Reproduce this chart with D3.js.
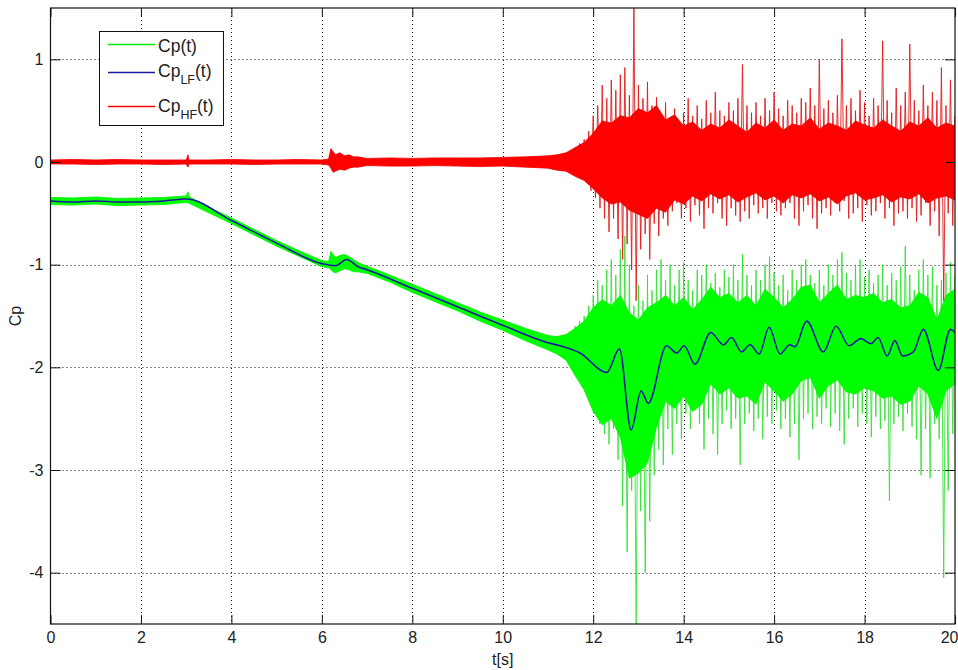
<!DOCTYPE html>
<html>
<head>
<meta charset="utf-8">
<script src="https://cdnjs.cloudflare.com/ajax/libs/d3/7.8.5/d3.min.js"></script>
<style>
  body { margin: 0; background: #fff; }
  svg { display: block; }
  text { font-family: "Liberation Sans", Arial, sans-serif; }
</style>
</head>
<body>
<svg id="chart" width="958" height="670"></svg>
<script>
(function () {
    'use strict'

    // axis ticks
    var xTicks = [0, 2, 4, 6, 8, 10, 12, 14, 16, 18, 20]
    var xTickLabels = ['0', '2', '4', '6', '8', '10', '12', '14', '16', '18', '20']
    var yTicks = [-4, -3, -2, -1, 0, 1]
    var yTickLabels = ['-4', '-3', '-2', '-1', '0', '1']

    // low frequency part Cp_LF(t)
    var lfT = [0, 0.5, 1, 1.5, 2, 2.5, 3.0, 4, 5, 6, 6.3, 6.55, 6.8, 7, 8, 9, 10, 11, 11.27, 11.71,
        12.30, 12.58, 12.84, 13.06, 13.22, 13.62, 13.85, 14.01, 14.25, 14.60, 14.88, 15.06, 15.28,
        15.47, 15.67, 15.89, 16.13, 16.35, 16.46, 16.72, 17.09, 17.37, 17.66, 17.92, 18.14, 18.30,
        18.50, 18.67, 18.84, 19.08, 19.30, 19.63, 19.90, 20]
    var lfV = [-0.38, -0.39, -0.38, -0.39, -0.39, -0.38, -0.36, -0.57, -0.79, -0.99, -1.01, -0.95,
        -1.02, -1.05, -1.23, -1.41, -1.59, -1.76, -1.79, -1.86, -2.05, -1.82, -2.61, -2.23, -2.35,
        -1.79, -1.86, -1.79, -1.97, -1.66, -1.78, -1.71, -1.85, -1.78, -1.87, -1.61, -1.87, -1.78,
        -1.80, -1.55, -1.85, -1.60, -1.79, -1.72, -1.77, -1.71, -1.89, -1.74, -1.89, -1.85, -1.63,
        -2.03, -1.63, -1.66]

    // times of the solid bands (before 11.5 s, then every 0.2 s)
    var bandT = [0, 0.5, 1, 1.5, 2, 2.5, 3.0, 3.04, 3.06, 3.1, 3.5, 4, 4.5, 5, 5.5, 6.0, 6.15, 6.2,
        6.25, 6.3, 6.4, 6.5, 6.6, 6.7, 6.8, 7.0, 7.5, 8, 8.5, 9, 9.5, 10, 10.5, 11, 11.2, 11.4,
        11.6, 11.8, 12.0, 12.2, 12.4, 12.6, 12.8, 13.0, 13.2, 13.4, 13.6, 13.8, 14.0, 14.2, 14.4,
        14.6, 14.8, 15.0, 15.2, 15.4, 15.6, 15.8, 16.0, 16.2, 16.4, 16.6, 16.8, 17.0, 17.2, 17.4,
        17.6, 17.8, 18.0, 18.2, 18.4, 18.6, 18.8, 19.0, 19.2, 19.4, 19.6, 19.8, 20.0]

    // Cp(t): solid band of the signal
    var greenTop = [-0.345, -0.35, -0.34, -0.355, -0.35, -0.345, -0.33, -0.29, -0.33, -0.345,
        -0.44, -0.545, -0.655, -0.765, -0.865, -0.96, -0.97, -0.87, -0.90, -0.93, -0.91, -0.90,
        -0.92, -0.95, -0.98, -1.015, -1.10, -1.19, -1.28, -1.37, -1.46, -1.54, -1.62, -1.69, -1.70,
        -1.68,
        -1.62, -1.55, -1.42, -1.34, -1.40, -1.30, -1.47, -1.54, -1.42, -1.37, -1.30, -1.40, -1.32,
        -1.44, -1.34, -1.22, -1.32, -1.28, -1.37, -1.30, -1.40, -1.24, -1.32, -1.42, -1.34, -1.22,
        -1.20, -1.37, -1.28, -1.20, -1.34, -1.30, -1.32, -1.28, -1.37, -1.34, -1.42, -1.40, -1.27,
        -1.32, -1.54, -1.30, -1.24]
    var greenBot = [-0.415, -0.42, -0.41, -0.425, -0.42, -0.415, -0.395, -0.40, -0.40, -0.41,
        -0.495, -0.60, -0.71, -0.82, -0.92, -1.02, -1.03, -1.05, -1.07, -1.08, -1.06, -1.04, -1.05,
        -1.07, -1.07, -1.085, -1.17, -1.27, -1.36, -1.45, -1.55, -1.64, -1.74, -1.83, -1.87, -1.93,
        -2.08, -2.22, -2.43, -2.56, -2.50, -2.68, -3.08, -3.03, -2.93, -2.58, -2.33, -2.40, -2.28,
        -2.43, -2.36, -2.16, -2.26, -2.20, -2.30, -2.28, -2.36, -2.14, -2.23, -2.33, -2.26, -2.13,
        -2.10, -2.30, -2.18, -2.12, -2.24, -2.26, -2.20, -2.23, -2.30, -2.28, -2.36, -2.33, -2.18,
        -2.26, -2.50, -2.23, -2.16]

    // Cp_HF(t): solid band
    var redTop = [0.02, 0.025, 0.02, 0.025, 0.02, 0.02, 0.02, 0.07, 0.02, 0.02, 0.02, 0.025, 0.02,
        0.02, 0.025, 0.02, 0.03, 0.13, 0.10, 0.07, 0.09, 0.06, 0.07, 0.05, 0.05, 0.035, 0.04, 0.035,
        0.04, 0.04, 0.04, 0.045, 0.05, 0.06, 0.07, 0.09,
        0.14, 0.19, 0.28, 0.40, 0.38, 0.45, 0.43, 0.52, 0.48, 0.55, 0.41, 0.46, 0.35, 0.39, 0.31,
        0.37, 0.33, 0.41, 0.35, 0.29, 0.38, 0.33, 0.41, 0.31, 0.37, 0.35, 0.43, 0.32, 0.38, 0.35,
        0.31, 0.40, 0.36, 0.33, 0.41, 0.35, 0.30, 0.39, 0.35, 0.43, 0.33, 0.38, 0.35]
    var redBot = [-0.02, -0.02, -0.025, -0.02, -0.02, -0.025, -0.02, -0.05, -0.02, -0.02, -0.02,
        -0.02, -0.025, -0.02, -0.02, -0.02, -0.03, -0.06, -0.10, -0.09, -0.07, -0.08, -0.06, -0.05,
        -0.05, -0.035, -0.04, -0.04, -0.035, -0.04, -0.045, -0.04, -0.05, -0.06, -0.08, -0.09,
        -0.14, -0.18, -0.26, -0.35, -0.41, -0.39, -0.47, -0.51, -0.55, -0.45, -0.49, -0.37, -0.41,
        -0.33, -0.38, -0.31, -0.36, -0.32, -0.39, -0.34, -0.30, -0.37, -0.33, -0.40, -0.32, -0.35,
        -0.31, -0.38, -0.34, -0.41, -0.33, -0.30, -0.37, -0.35, -0.32, -0.39, -0.34, -0.36, -0.31,
        -0.40, -0.35, -0.33, -0.37]

    // Cp(t): peaks and troughs every 0.1 s from 11.5 s
    var greenHi = [-1.65, -1.60, -1.55, -1.50, -1.40, -1.30, -1.15, -1.20, -1.05, -0.95, -1.10,
        -0.85, -0.72, -1.00, -1.40, -1.20, -1.35, -1.10, -1.25, -1.05, -0.95, -1.15, -1.00, -1.20,
        -1.05, -0.98, -1.15, -1.25, -1.05, -1.10, -1.00, -1.18, -1.08, -1.22, -1.05, -1.12, -1.00,
        -1.15, -0.90, -1.10, -1.20, -1.05, -1.15, -1.00, -0.92, -1.08, -1.20, -1.10, -1.25, -1.05,
        -1.15, -1.00, -0.95, -1.10, -1.18, -1.05, -1.20, -1.00, -1.10, -0.95, -0.88, -1.08, -1.15,
        -1.00, -0.95, -1.12, -1.05, -1.18, -1.10, -1.00, -1.20, -1.08, -1.15, -1.02, -0.82, -1.10,
        -1.25, -1.05, -0.95, -1.10, -1.02, -1.20, -1.15, -1.08, -0.98, -1.10]
    var greenLo = [-2.00, -2.05, -2.12, -2.20, -2.30, -2.45, -2.55, -2.65, -2.75, -2.60, -2.90,
        -3.35, -3.80, -3.20, -4.50, -3.40, -4.00, -3.50, -3.05, -2.80, -2.95, -2.60, -2.85, -2.55,
        -2.70, -2.45, -2.60, -2.40, -2.55, -2.80, -2.50, -2.65, -2.85, -2.55, -2.42, -2.60, -2.50,
        -2.95, -2.55, -2.45, -2.62, -2.50, -2.70, -2.48, -2.55, -2.42, -2.60, -2.50, -2.68, -2.55,
        -2.90, -2.50, -2.45, -2.60, -2.48, -2.55, -2.40, -2.58, -2.45, -2.62, -2.75, -2.50, -2.40,
        -2.58, -2.45, -2.55, -2.68, -2.48, -2.60, -2.52, -3.30, -2.55, -2.48, -2.62, -2.45, -2.58,
        -2.70, -3.05, -2.60, -3.08, -2.55, -2.70, -4.05, -3.20, -2.65, -2.45]

    // Cp_HF(t): peaks and troughs every 0.1 s from 11.5 s
    var redHi = [0.10, 0.14, 0.18, 0.22, 0.30, 0.45, 0.55, 0.75, 0.62, 0.80, 0.70, 0.85, 0.92, 0.65,
        1.50, 0.75, 0.62, 0.78, 0.55, 0.63, 0.45, 0.58, 0.40, 0.52, 0.38, 0.48, 0.62, 0.45, 0.55,
        0.42, 0.60, 0.48, 0.68, 0.50, 0.45, 0.58, 0.50, 0.62, 0.95, 0.55, 0.48, 0.58, 0.45, 0.62,
        0.50, 0.68, 0.52, 0.45, 0.60, 0.55, 0.48, 0.62, 0.58, 0.72, 0.55, 1.00, 0.52, 0.60, 0.48,
        0.65, 1.20, 0.55, 0.62, 0.50, 0.70, 0.58, 0.45, 0.62, 0.55, 1.18, 0.60, 0.48, 0.72, 0.55,
        0.68, 1.15, 0.60, 0.50, 0.75, 0.55, 0.68, 0.60, 0.92, 0.55, 0.80, 0.45]
    var redLo = [-0.10, -0.12, -0.15, -0.20, -0.28, -0.35, -0.45, -0.55, -0.68, -0.55, -0.75, -0.95,
        -0.80, -1.05, -1.35, -0.85, -0.70, -0.95, -0.60, -0.72, -0.55, -0.62, -0.48, -0.40, -0.55,
        -0.45, -0.58, -0.42, -0.52, -0.65, -0.45, -0.50, -0.40, -0.55, -0.62, -0.45, -0.52, -0.58,
        -0.48, -0.55, -0.42, -0.50, -0.45, -0.55, -0.40, -0.48, -0.52, -0.45, -0.40, -0.55, -0.62,
        -0.48, -0.42, -0.55, -0.65, -0.50, -0.45, -0.52, -0.40, -0.48, -0.38, -0.55, -0.50, -0.45,
        -0.58, -0.42, -0.52, -0.48, -0.40, -0.55, -0.45, -0.62, -0.50, -0.48, -0.55, -0.45, -0.58,
        -0.52, -0.40, -0.62, -0.48, -0.72, -1.35, -0.50, -0.62, -0.40]

    var spikeT = greenHi.map(function (d, i) { return 11.5 + i * 0.1 })

    var legendItems = [
        { name: 'Cp', sub: '', color: '#00e600' },
        { name: 'Cp', sub: 'LF', color: '#1a1aa0' },
        { name: 'Cp', sub: 'HF', color: '#ee0000' }
    ]

    var svg = d3.select('#chart')
    var x = d3.scaleLinear().domain([0, 20]).range([50.5, 955])
    var y = d3.scaleLinear().domain([-4.5, 1.5]).range([624, 8])

    svg.append('rect').attr('width', 958).attr('height', 670).attr('fill', '#fff')

    svg.append('defs').append('clipPath').attr('id', 'plotClip')
        .append('rect')
        .attr('x', x(0)).attr('y', y(1.5))
        .attr('width', x(20) - x(0)).attr('height', y(-4.5) - y(1.5))

    // grid
    var grid = svg.append('g').attr('stroke', '#111').attr('stroke-width', 1)
        .attr('stroke-dasharray', '1,3')
    grid.selectAll('.gx').data(xTicks.slice(1, -1)).enter().append('line')
        .attr('x1', function (d) { return Math.round(x(d)) + 0.5 })
        .attr('x2', function (d) { return Math.round(x(d)) + 0.5 })
        .attr('y1', y(1.5)).attr('y2', y(-4.5))
    grid.selectAll('.gy').data(yTicks).enter().append('line')
        .attr('y1', function (d) { return Math.round(y(d)) + 0.5 })
        .attr('y2', function (d) { return Math.round(y(d)) + 0.5 })
        .attr('x1', x(0)).attr('x2', x(20))

    var plot = svg.append('g').attr('clip-path', 'url(#plotClip)')

    function band(top, bot) {
        return d3.area()
            .x(function (d, i) { return x(bandT[i]) })
            .y0(function (d, i) { return y(bot[i]) })
            .y1(function (d, i) { return y(top[i]) })(bandT)
    }

    function zigzag(hi, lo) {
        var pts = []
        spikeT.forEach(function (t, i) {
            pts.push([t, hi[i]])
            pts.push([t + 0.05, lo[i]])
        })
        return d3.line()
            .x(function (d) { return x(d[0]) })
            .y(function (d) { return y(d[1]) })(pts)
    }

    // Cp(t)
    plot.append('path').attr('d', zigzag(greenHi, greenLo))
        .attr('fill', 'none').attr('stroke', '#2ee02e').attr('stroke-width', 1)
        .attr('stroke-opacity', 0.85)
    plot.append('path').attr('d', band(greenTop, greenBot))
        .attr('fill', '#00ff00').attr('stroke', '#00f000').attr('stroke-width', 0.8)

    // Cp_LF(t)
    plot.append('path')
        .attr('d', d3.line()
            .curve(d3.curveMonotoneX)
            .x(function (d, i) { return x(lfT[i]) })
            .y(function (d) { return y(d) })(lfV))
        .attr('fill', 'none').attr('stroke', '#1a1aa0').attr('stroke-width', 1.6)

    // Cp_HF(t)
    plot.append('path').attr('d', zigzag(redHi, redLo))
        .attr('fill', 'none').attr('stroke', '#e41a1a').attr('stroke-width', 1)
        .attr('stroke-opacity', 0.9)
    plot.append('path').attr('d', band(redTop, redBot))
        .attr('fill', '#ff0000').attr('stroke', '#f00000').attr('stroke-width', 0.8)

    // axes with inward ticks on all four sides
    var fmtX = function (d, i) { return xTickLabels[i] }
    var fmtY = function (d, i) { return yTickLabels[i] }

    var gb = svg.append('g').attr('transform', 'translate(0,' + y(-4.5) + ')')
        .call(d3.axisBottom(x).tickValues(xTicks).tickFormat(fmtX).tickSize(-9).tickPadding(8))
    var gl = svg.append('g').attr('transform', 'translate(' + x(0) + ',0)')
        .call(d3.axisLeft(y).tickValues(yTicks).tickFormat(fmtY).tickSize(-10).tickPadding(7))
    var gt = svg.append('g').attr('transform', 'translate(0,' + y(1.5) + ')')
        .call(d3.axisTop(x).tickValues(xTicks).tickFormat('').tickSize(-9))
    var gr = svg.append('g').attr('transform', 'translate(' + x(20) + ',0)')
        .call(d3.axisRight(y).tickValues(yTicks).tickFormat('').tickSize(-10))

    ;[gb, gl, gt, gr].forEach(function (g) {
        g.select('.domain').remove()
        g.selectAll('line').attr('stroke', '#111')
        g.selectAll('text').attr('font-size', 16).attr('fill', '#222')
            .style('font-family', '"Liberation Sans", Arial, sans-serif')
    })
    // keep the last label inside the picture
    gb.selectAll('.tick text').filter(function (d) { return d === 20 })
        .attr('text-anchor', 'end').attr('x', 3)

    svg.append('rect')
        .attr('x', x(0)).attr('y', y(1.5))
        .attr('width', x(20) - x(0)).attr('height', y(-4.5) - y(1.5))
        .attr('fill', 'none').attr('stroke', '#111').attr('stroke-width', 1.2)

    // axis titles
    svg.append('text').attr('x', x(10)).attr('y', 665)
        .attr('text-anchor', 'middle').attr('font-size', 16).attr('fill', '#222')
        .text('t[s]')
    svg.append('text').attr('transform', 'translate(21,' + y(-1.5) + ') rotate(-90)')
        .attr('text-anchor', 'middle').attr('font-size', 16).attr('fill', '#222')
        .text('Cp')

    // legend
    var legend = svg.append('g')
    legend.append('rect').attr('x', 99.5).attr('y', 31.5).attr('width', 124).attr('height', 94)
        .attr('fill', '#fff').attr('stroke', '#111').attr('stroke-width', 1)

    var lineY = [44.5, 72.5, 106.5]
    var textY = [52, 77, 111.5]

    var rows = legend.selectAll('.row').data(legendItems).enter().append('g')
    rows.append('line')
        .attr('x1', 108).attr('x2', 155)
        .attr('y1', function (d, i) { return lineY[i] })
        .attr('y2', function (d, i) { return lineY[i] })
        .attr('stroke', function (d) { return d.color }).attr('stroke-width', 1.4)

    var label = rows.append('text')
        .attr('x', 158)
        .attr('y', function (d, i) { return textY[i] })
        .attr('font-size', 17.5).attr('fill', '#222')
    label.append('tspan').text(function (d) { return d.name })
    label.filter(function (d) { return d.sub }).append('tspan')
        .attr('font-size', 12.5).attr('dy', 7)
        .text(function (d) { return d.sub })
    label.append('tspan')
        .attr('dy', function (d) { return d.sub ? -7 : 0 })
        .text('(t)')
})()
</script>
</body>
</html>
